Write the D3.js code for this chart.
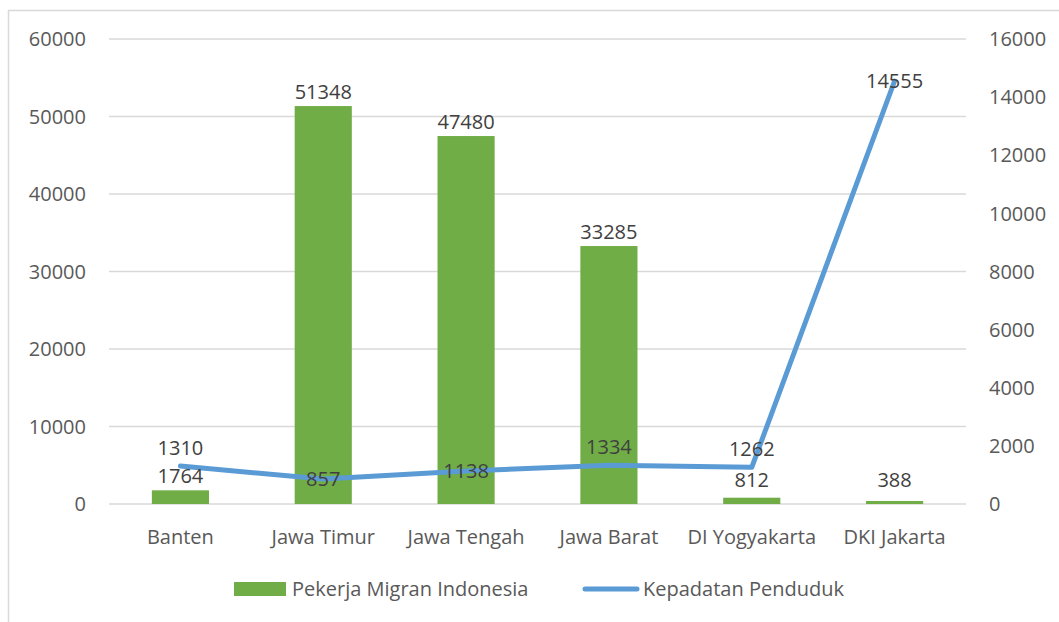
<!DOCTYPE html>
<html>
<head>
<meta charset="utf-8">
<script src="https://cdn.jsdelivr.net/npm/d3@7"></script>
<style>
  body { margin: 0; background: #fff; }
  text { font-family: "Open Sans", sans-serif; }
</style>
</head>
<body>
<div id="chart"></div>
<script>
"use strict";

/* Data */
let provinces = ["Banten", "Jawa Timur", "Jawa Tengah", "Jawa Barat", "DI Yogyakarta", "DKI Jakarta"];
let pekerjaMigran = [1764, 51348, 47480, 33285, 812, 388];
let kepadatan = [1310, 857, 1138, 1334, 1262, 14555];
let leftTicks = [0, 10000, 20000, 30000, 40000, 50000, 60000];
let rightTicks = [0, 2000, 4000, 6000, 8000, 10000, 12000, 14000, 16000];
// where the line label sits relative to its point
let lineLabelPlace = ["above", "center", "center", "above", "above", "center"];

/* SVG setup */
let width = 1059;
let height = 622;
let plotLeft = 109, plotRight = 966, plotTop = 39, plotBottom = 504;

let svg = d3.select("#chart")
  .append("svg")
  .attr("width", width)
  .attr("height", height);

/* Chart border */
svg.append("rect")
  .attr("x", 8.5)
  .attr("y", 10.5)
  .attr("width", width)
  .attr("height", height)
  .attr("fill", "none")
  .attr("stroke", "#d9d9d9")
  .attr("stroke-width", 1.5);

/* Scales */
let x = d3.scaleBand().domain(provinces).range([plotLeft, plotRight]).padding(0);
let yLeft = d3.scaleLinear().domain([0, 60000]).range([plotBottom, plotTop]);
let yRight = d3.scaleLinear().domain([0, 16000]).range([plotBottom, plotTop]);
let barW = x.bandwidth() * 0.4;
let cx = d => x(d) + x.bandwidth() / 2;

/* Gridlines */
svg.selectAll(".grid")
  .data(leftTicks)
  .enter()
  .append("line")
  .attr("x1", plotLeft)
  .attr("x2", plotRight)
  .attr("y1", d => yLeft(d))
  .attr("y2", d => yLeft(d))
  .attr("stroke", "#d9d9d9")
  .attr("stroke-width", 1.5);

/* Left axis labels */
svg.selectAll(".ltick")
  .data(leftTicks)
  .enter()
  .append("text")
  .attr("x", 86)
  .attr("y", d => yLeft(d))
  .attr("dy", "0.36em")
  .attr("text-anchor", "end")
  .attr("fill", "#595959")
  .style("font-size", "20px")
  .text(d => d);

/* Right axis labels */
svg.selectAll(".rtick")
  .data(rightTicks)
  .enter()
  .append("text")
  .attr("x", 989)
  .attr("y", d => yRight(d))
  .attr("dy", "0.36em")
  .attr("text-anchor", "start")
  .attr("fill", "#595959")
  .style("font-size", "20px")
  .text(d => d);

/* Category labels */
svg.selectAll(".cat")
  .data(provinces)
  .enter()
  .append("text")
  .attr("x", d => cx(d))
  .attr("y", plotBottom + 40)
  .attr("text-anchor", "middle")
  .attr("fill", "#595959")
  .style("font-size", "20px")
  .text(d => d);

/* Bars */
svg.selectAll(".bar")
  .data(pekerjaMigran)
  .enter()
  .append("rect")
  .attr("x", (d, i) => cx(provinces[i]) - barW / 2)
  .attr("y", d => yLeft(d))
  .attr("width", barW)
  .attr("height", d => plotBottom - yLeft(d))
  .attr("fill", "#70ad47");

/* Line */
let line = d3.line()
  .x((d, i) => cx(provinces[i]))
  .y(d => yRight(d));

svg.append("path")
  .datum(kepadatan)
  .attr("d", line)
  .attr("fill", "none")
  .attr("stroke", "#5b9bd5")
  .attr("stroke-width", 5)
  .attr("stroke-linecap", "round")
  .attr("stroke-linejoin", "round");

/* Bar labels */
svg.selectAll(".barlabel")
  .data(pekerjaMigran)
  .enter()
  .append("text")
  .attr("x", (d, i) => cx(provinces[i]))
  .attr("y", d => Math.min(yLeft(d) - 7, plotBottom - 17))
  .attr("text-anchor", "middle")
  .attr("fill", "#404040")
  .style("font-size", "20px")
  .text(d => d);

/* Line labels */
svg.selectAll(".linelabel")
  .data(kepadatan)
  .enter()
  .append("text")
  .attr("x", (d, i) => cx(provinces[i]))
  .attr("y", (d, i) => lineLabelPlace[i] === "above" ? yRight(d) - 11 : yRight(d))
  .attr("dy", (d, i) => lineLabelPlace[i] === "above" ? "0" : "0.36em")
  .attr("text-anchor", "middle")
  .attr("fill", "#404040")
  .style("font-size", "20px")
  .text(d => d);

/* Legend */
svg.append("rect")
  .attr("x", 234)
  .attr("y", 582)
  .attr("width", 52)
  .attr("height", 14)
  .attr("fill", "#70ad47");

svg.append("text")
  .attr("x", 292)
  .attr("y", 589)
  .attr("dy", "0.36em")
  .attr("fill", "#595959")
  .style("font-size", "20px")
  .text("Pekerja Migran Indonesia");

svg.append("line")
  .attr("x1", 585)
  .attr("x2", 637)
  .attr("y1", 589)
  .attr("y2", 589)
  .attr("stroke", "#5b9bd5")
  .attr("stroke-width", 5)
  .attr("stroke-linecap", "round");

svg.append("text")
  .attr("x", 643)
  .attr("y", 589)
  .attr("dy", "0.36em")
  .attr("fill", "#595959")
  .style("font-size", "20px")
  .text("Kepadatan Penduduk");
</script>
</body>
</html>
